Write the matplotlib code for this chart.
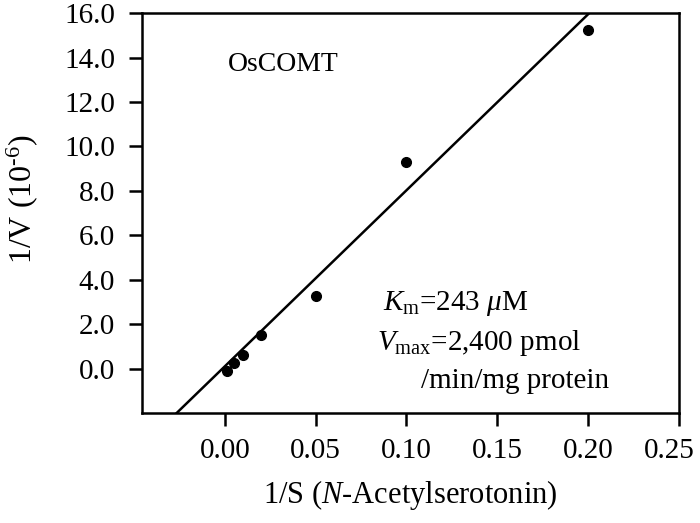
import numpy as np
import matplotlib
matplotlib.use("Agg")
import matplotlib.pyplot as plt
import matplotlib.transforms as mtransforms

plt.rcParams['font.family'] = ['Liberation Serif', 'DejaVu Serif']
plt.rcParams['mathtext.fontset'] = 'custom'
plt.rcParams['mathtext.rm'] = 'Liberation Serif'
plt.rcParams['mathtext.it'] = 'Liberation Serif:italic'

# Lineweaver-Burk data
inv_s = [0.001, 0.005, 0.01, 0.02, 0.05, 0.10, 0.20]
inv_v = [-0.08, 0.28, 0.64, 1.52, 3.28, 9.31, 15.25]

# drawn regression line
fit_slope = 79.2
fit_intercept = 0.11

xticks = [0.00, 0.05, 0.10, 0.15, 0.20, 0.25]
yticks = [0.0, 2.0, 4.0, 6.0, 8.0, 10.0, 12.0, 14.0, 16.0]

fig = plt.figure(figsize=(7, 5.23), dpi=100)
ax = fig.add_axes([0.203, 0.211, 0.767, 0.764])

xlim = (-0.0455, 0.25)
ylim = (-1.97, 16.0)

lx = np.array(xlim)
ax.plot(lx, fit_slope * lx + fit_intercept, color='black', lw=1.8)
ax.plot(inv_s, inv_v, 'o', color='black', ms=7)

ax.set_xlim(*xlim)
ax.set_ylim(*ylim)
ax.set_xticks(xticks)
ax.set_xticklabels([f"{t:.2f}" for t in xticks])
ax.set_yticks(yticks)
ax.set_yticklabels([f"{t:.1f}" for t in yticks])

for s in ax.spines.values():
    s.set_linewidth(1.8)
ax.tick_params(direction='out', length=9.5, width=1.8, labelsize=21)
ax.tick_params(axis='x', pad=9)
ax.tick_params(axis='y', pad=10)

# last x label sits a bit left so it stays inside the figure
last = ax.get_xticklabels()[-1]
last.set_transform(last.get_transform() +
                   mtransforms.ScaledTranslation(-7 / 72, 0, fig.dpi_scale_trans))

ax.set_xlabel('1/S ($N$-Acetylserotonin)', fontsize=22, labelpad=10)
ax.set_ylabel('1/V (10$^{\\text{-6}}$)', fontsize=23)
ax.yaxis.set_label_coords(-0.19, 0.535)

ax.text(0.16, 0.855, 'OsCOMT', transform=ax.transAxes, fontsize=20)
ax.text(0.449, 0.257, '$K_{\\mathrm{m}}$=243 $\\mu$M', transform=ax.transAxes, fontsize=21)
ax.text(0.4376, 0.157, '$V_{\\mathrm{max}}$=2,400 pmol', transform=ax.transAxes, fontsize=21)
ax.text(0.52, 0.062, '/min/mg protein', transform=ax.transAxes, fontsize=21)

fig.savefig('out.png', dpi=100)
